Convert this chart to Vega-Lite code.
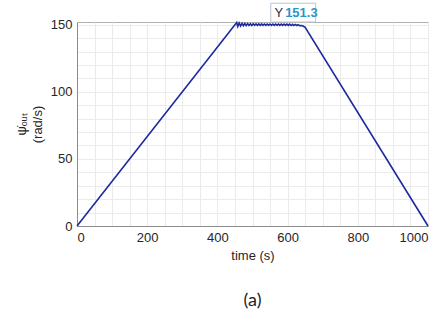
{
  "$schema": "https://vega.github.io/schema/vega-lite/v6.json",
  "autosize": {"type": "none"},
  "width": 351,
  "height": 204,
  "padding": {"left": 77, "top": 22, "right": 15, "bottom": 98},
  "background": "white",
  "config": {
    "view": {"stroke": "#b0b0b0"},
    "axis": {"labelFont": "Liberation Sans", "titleFont": "Liberation Sans", "labelFontSize": 13, "titleFontSize": 13, "labelColor": "#262626", "titleColor": "#262626", "titleFontWeight": "normal", "domainColor": "#8c8c8c", "tickColor": "#8c8c8c", "gridColor": "#ebebeb", "gridWidth": 1, "labelOverlap": false}
  },
  "title": {"text": "(a)", "orient": "bottom", "font": "Lato", "fontSize": 18, "fontWeight": "normal", "color": "#222222", "offset": 30, "anchor": "middle"},
  "datasets": {
    "curve": [
      {"t": 0, "w": 0},
      {"t": 455, "w": 151.6},
      {"t": 458, "w": 148.6},
      {"t": 462, "w": 151.2},
      {"t": 466, "w": 149.0},
      {"t": 470, "w": 151.0},
      {"t": 474, "w": 149.2},
      {"t": 478, "w": 150.9},
      {"t": 482, "w": 149.3},
      {"t": 486, "w": 150.8},
      {"t": 490, "w": 149.4},
      {"t": 494, "w": 150.7},
      {"t": 498, "w": 149.4},
      {"t": 502, "w": 150.7},
      {"t": 506, "w": 149.5},
      {"t": 510, "w": 150.6},
      {"t": 514, "w": 149.5},
      {"t": 518, "w": 150.6},
      {"t": 522, "w": 149.5},
      {"t": 526, "w": 150.6},
      {"t": 530, "w": 149.5},
      {"t": 534, "w": 150.5},
      {"t": 538, "w": 149.5},
      {"t": 542, "w": 150.5},
      {"t": 546, "w": 149.5},
      {"t": 550, "w": 150.5},
      {"t": 554, "w": 149.5},
      {"t": 558, "w": 150.5},
      {"t": 562, "w": 149.5},
      {"t": 566, "w": 150.5},
      {"t": 570, "w": 149.5},
      {"t": 574, "w": 150.5},
      {"t": 578, "w": 149.5},
      {"t": 582, "w": 150.5},
      {"t": 586, "w": 149.5},
      {"t": 590, "w": 150.5},
      {"t": 594, "w": 149.5},
      {"t": 598, "w": 150.4},
      {"t": 602, "w": 149.5},
      {"t": 606, "w": 150.4},
      {"t": 610, "w": 149.4},
      {"t": 614, "w": 150.3},
      {"t": 618, "w": 149.4},
      {"t": 622, "w": 150.2},
      {"t": 626, "w": 149.4},
      {"t": 630, "w": 150.0},
      {"t": 634, "w": 149.3},
      {"t": 640, "w": 149.4},
      {"t": 645, "w": 148.8},
      {"t": 650, "w": 148},
      {"t": 1000, "w": 0}
    ],
    "box": [{"x1": 552, "x2": 680, "y1": 152, "y2": 166}]
  },
  "layer": [
    {
      "data": {"name": "curve"},
      "mark": {"type": "line", "color": "#1c2a9e", "strokeWidth": 1.6},
      "encoding": {
        "x": {"field": "t", "type": "quantitative", "scale": {"domain": [0, 1000], "nice": false},
              "axis": {"values": [0,50,100,150,200,250,300,350,400,450,500,550,600,650,700,750,800,850,900,950,1000], "tickCount": 50, "labelExpr": "datum.value % 200 == 0 ? format(datum.value, 'd') : ''", "ticks": false, "grid": true, "title": "time (s)", "labelPadding": 5, "titlePadding": 5}},
        "y": {"field": "w", "type": "quantitative", "scale": {"domain": [0, 152], "nice": false},
              "axis": {"values": [0,10,20,30,40,50,60,70,80,90,100,110,120,130,140,150], "tickCount": 50, "labelExpr": "datum.value % 50 == 0 ? format(datum.value, 'd') : ''", "ticks": false, "grid": true, "title": ["ψ̇ₒᵤₜ", "(rad/s)"], "labelPadding": 5, "titlePadding": 6, "titleLineHeight": 16}}
      }
    },
    {
      "data": {"name": "box"},
      "mark": {"type": "rect", "fill": "white", "stroke": "#b8c4d0", "strokeWidth": 1},
      "encoding": {
        "x": {"field": "x1", "type": "quantitative"},
        "x2": {"field": "x2"},
        "y": {"field": "y1", "type": "quantitative"},
        "y2": {"field": "y2"}
      }
    },
    {
      "data": {"values": [{"x": 563, "y": 159, "label": "Y"}]},
      "mark": {"type": "text", "align": "left", "baseline": "middle", "font": "Liberation Sans", "fontSize": 13, "color": "#333333"},
      "encoding": {
        "x": {"field": "x", "type": "quantitative"},
        "y": {"field": "y", "type": "quantitative"},
        "text": {"field": "label"}
      }
    },
    {
      "data": {"values": [{"x": 593, "y": 159, "label": "151.3"}]},
      "mark": {"type": "text", "align": "left", "baseline": "middle", "font": "Liberation Sans", "fontSize": 13, "fontWeight": "bold", "color": "#2a96c8"},
      "encoding": {
        "x": {"field": "x", "type": "quantitative"},
        "y": {"field": "y", "type": "quantitative"},
        "text": {"field": "label"}
      }
    }
  ]
}
